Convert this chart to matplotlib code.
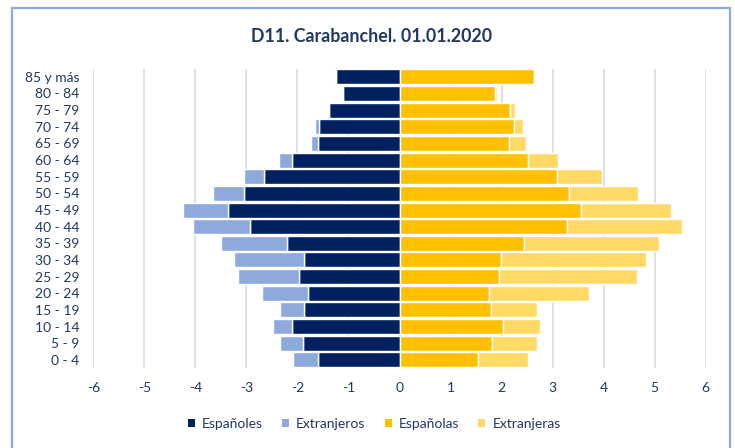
import matplotlib
matplotlib.use("Agg")
import matplotlib.pyplot as plt
from matplotlib.patches import Rectangle, Patch

ages = ["0 - 4", "5 - 9", "10 - 14", "15 - 19", "20 - 24", "25 - 29", "30 - 34",
        "35 - 39", "40 - 44", "45 - 49", "50 - 54", "55 - 59", "60 - 64",
        "65 - 69", "70 - 74", "75 - 79", "80 - 84", "85 y más"]
espanoles = [1.59, 1.90, 2.10, 1.88, 1.80, 1.96, 1.88, 2.20, 2.92, 3.36, 3.04,
             2.66, 2.10, 1.59, 1.58, 1.39, 1.10, 1.24]
extranjeros = [0.50, 0.44, 0.37, 0.46, 0.89, 1.20, 1.36, 1.29, 1.12, 0.88, 0.62,
               0.39, 0.26, 0.14, 0.07, 0.02, 0.01, 0.02]
espanolas = [1.53, 1.82, 2.02, 1.80, 1.76, 1.94, 1.98, 2.43, 3.29, 3.55, 3.33,
             3.09, 2.52, 2.15, 2.25, 2.17, 1.88, 2.64]
extranjeras = [0.98, 0.88, 0.73, 0.89, 1.96, 2.72, 2.85, 2.66, 2.24, 1.77, 1.35,
               0.88, 0.59, 0.33, 0.17, 0.09, 0.04, 0.02]
xticks = [-6, -5, -4, -3, -2, -1, 0, 1, 2, 3, 4, 5, 6]
title = "D11. Carabanchel. 01.01.2020"
series_names = ["Españoles", "Extranjeros", "Españolas", "Extranjeras"]

c_esp_m = "#002060"
c_ext_m = "#8EA9DB"
c_esp_f = "#FFC000"
c_ext_f = "#FFD966"
txt = "#1F3864"
font = "Lato"

fig = plt.figure(figsize=(7.35, 4.48), dpi=100)
ax = fig.add_axes([93.3 / 735, 1 - 368.2 / 448, 612.4 / 735, 299.7 / 448])

y = list(range(len(ages)))
h = 0.9
ax.barh(y, [-v for v in espanoles], height=h, color=c_esp_m, edgecolor="white", linewidth=1.0, zorder=3)
ax.barh(y, [-v for v in extranjeros], left=[-v for v in espanoles], height=h, color=c_ext_m,
        edgecolor="white", linewidth=1.0, zorder=3)
ax.barh(y, espanolas, height=h, color=c_esp_f, edgecolor="white", linewidth=1.0, zorder=3)
ax.barh(y, extranjeras, left=espanolas, height=h, color=c_ext_f, edgecolor="white", linewidth=1.0, zorder=3)

ax.set_xlim(-6, 6)
ax.set_ylim(-0.5, len(ages) - 0.5)
ax.set_xticks(xticks)
ax.set_xticklabels([str(t) for t in xticks], fontsize=10, color=txt, family=font)
ax.set_yticks(y)
ax.set_yticklabels(ages, fontsize=10, color=txt, family=font)
ax.tick_params(axis="both", length=0)
ax.tick_params(axis="y", pad=10)
ax.tick_params(axis="x", pad=10)
ax.grid(axis="x", color="#D9D9D9", linewidth=1.2, zorder=0)
ax.set_axisbelow(True)
for s in ax.spines.values():
    s.set_visible(False)

fig.text(0.505, 1 - 36 / 448, title, ha="center", va="center", fontsize=12.8,
         fontweight="bold", color=txt, family=font)

handles = [Patch(facecolor=c, edgecolor="none") for c in [c_esp_m, c_ext_m, c_esp_f, c_ext_f]]
leg = fig.legend(handles, series_names, loc="center", bbox_to_anchor=(0.509, 1 - 424 / 448),
                 ncol=4, frameon=False, handlelength=0.5, handleheight=0.5, handletextpad=0.5,
                 columnspacing=1.4, prop={"family": font, "size": 10})
for t in leg.get_texts():
    t.set_color(txt)

fig.patches.append(Rectangle((11.5 / 735, -0.1), (730 - 11.5) / 735, 1.1 - 8.5 / 448,
                             transform=fig.transFigure, fill=False, edgecolor="#8EA9DB",
                             linewidth=1.6, zorder=10))

fig.savefig("out.png", dpi=100)
